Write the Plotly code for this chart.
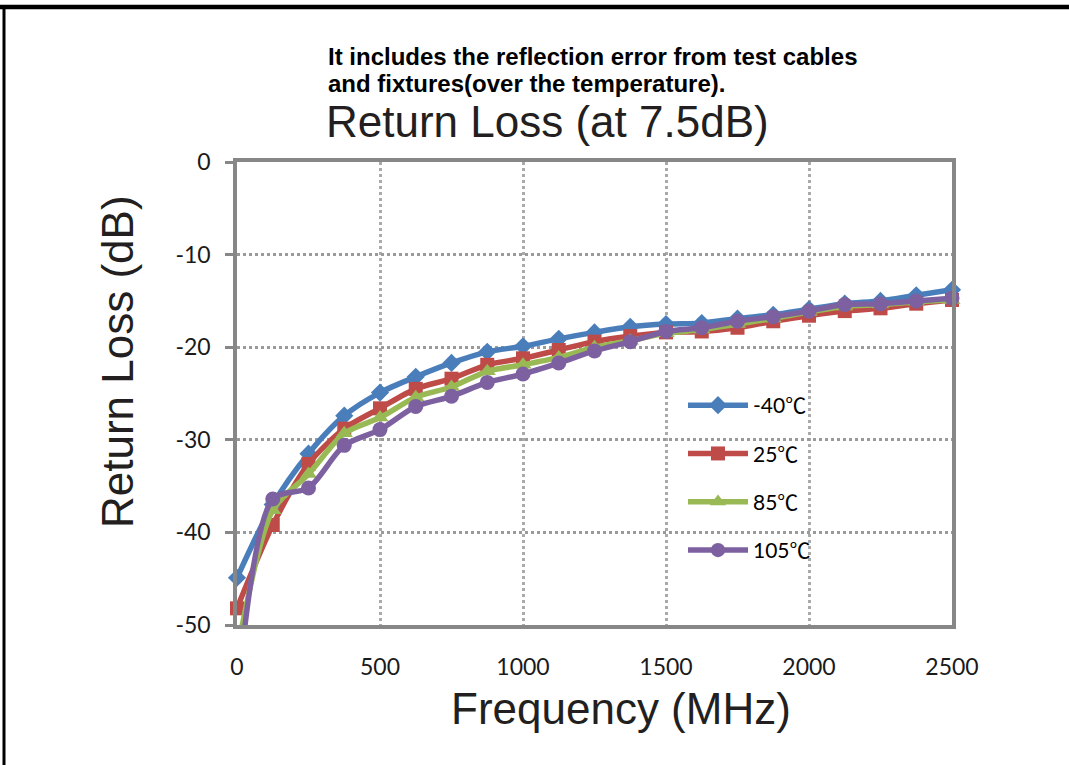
import plotly.graph_objects as go

# ---------------- data ----------------
freq_mhz = [0, 125, 250, 375, 500, 625, 750, 875, 1000, 1125, 1250,
            1375, 1500, 1625, 1750, 1875, 2000, 2125, 2250, 2375, 2500]
rl_m40 = [-44.9, -37.0, -31.5, -27.4, -24.9, -23.2, -21.7, -20.5, -19.9, -19.1, -18.4,
          -17.8, -17.5, -17.4, -16.9, -16.5, -15.9, -15.3, -15.0, -14.4, -13.8]
rl_25 = [-48.2, -39.2, -32.6, -28.8, -26.6, -24.5, -23.4, -21.9, -21.2, -20.3, -19.4,
         -18.8, -18.4, -18.3, -17.9, -17.2, -16.6, -16.1, -15.8, -15.3, -14.9]
rl_85 = [-53.0, -37.6, -33.7, -29.3, -27.6, -25.4, -24.3, -22.6, -21.9, -21.1, -20.0,
         -19.3, -18.5, -18.1, -17.5, -16.9, -16.2, -15.6, -15.4, -15.1, -14.9]
rl_105 = [-58.0, -36.4, -35.2, -30.6, -28.9, -26.4, -25.3, -23.8, -22.9, -21.7, -20.4,
          -19.4, -18.3, -17.9, -17.2, -16.7, -16.1, -15.4, -15.3, -15.0, -14.7]
series_names = ["-40℃", "25℃", "85℃", "105℃"]
x_ticks = [0, 500, 1000, 1500, 2000, 2500]
y_ticks = [0, -10, -20, -30, -40, -50]
subtitle_lines = ["It includes the reflection error from test cables",
                  "and fixtures(over the temperature)."]
chart_title = "Return Loss (at 7.5dB)"

# ---------------- style ----------------
W, H = 1069, 765
L, R, T, B = 237, 952, 162, 625
colors = ["#4A7EBB", "#BE4B48", "#98B954", "#7D60A0"]
symbols = ["diamond", "square", "triangle-up", "circle"]
msizes = [14, 14, 15, 15]
YMIN, YMAX = -50, 0


def px_x(p):
    return (p - L) / (R - L)


def px_y(p):
    return (B - p) / (B - T)


fig = go.Figure()
for i, (name, ys) in enumerate(zip(series_names, [rl_m40, rl_25, rl_85, rl_105])):
    sizes = [msizes[i] if YMIN <= v <= YMAX else 0 for v in ys]
    fig.add_trace(go.Scatter(
        x=freq_mhz, y=ys, name=name, mode="lines+markers",
        line=dict(color=colors[i], width=5.5, shape="spline", smoothing=0.8),
        marker=dict(symbol=symbols[i], size=sizes, color=colors[i], opacity=1,
                    line=dict(width=0)),
        cliponaxis=False, legendgroup=name,
    ))

tick_font = dict(family="Lato, Open Sans, sans-serif", size=23, color="#1a1a1a")
fig.update_xaxes(
    range=[0, 2500], tickvals=x_ticks, ticktext=[str(v) for v in x_ticks],
    showgrid=True, gridcolor="#aaaaaa", gridwidth=2.5, griddash="dot",
    showline=True, linecolor="#878787", linewidth=3.5, mirror=True,
    ticks="", tickfont=tick_font, ticklabelstandoff=19, zeroline=False,
)
fig.update_yaxes(
    range=[YMIN, YMAX], tickvals=y_ticks, ticktext=[str(v) for v in y_ticks],
    showgrid=True, gridcolor="#9a9a9a", gridwidth=2.5, griddash="dot",
    showline=True, linecolor="#878787", linewidth=3.5, mirror=True,
    ticks="outside", ticklen=8, tickwidth=2.5, tickcolor="#878787",
    tickfont=tick_font, ticklabelstandoff=10, zeroline=False,
)

title_font = dict(family="Liberation Sans, Arial", size=44, color="#231f20")
# axis titles as annotations (placed as in the reference)
fig.add_annotation(
    text="Return Loss (dB)", xref="paper", yref="paper", x=px_x(117), y=px_y(362),
    xanchor="center", yanchor="middle", textangle=-90, showarrow=False, font=title_font,
)
fig.add_annotation(
    text="Frequency (MHz)", xref="paper", yref="paper", x=px_x(621), y=px_y(708),
    xanchor="center", yanchor="middle", showarrow=False, font=title_font,
)
# chart titles
for line_text, yc in zip(subtitle_lines, [56, 84]):
    fig.add_annotation(
        text="<b>" + line_text + "</b>",
        xref="paper", yref="paper", x=px_x(326), y=px_y(yc), xanchor="left", yanchor="middle",
        align="left", showarrow=False,
        font=dict(family="Liberation Sans, Arial", size=24, color="#000000"),
    )
fig.add_annotation(
    text=chart_title, xref="paper", yref="paper",
    x=px_x(547), y=px_y(122), xanchor="center", yanchor="middle", showarrow=False,
    font=title_font,
)

# outer frame lines (top thick, left thin)
fig.add_shape(type="line", xref="paper", yref="paper",
              x0=px_x(0), x1=px_x(W), y0=px_y(7), y1=px_y(7),
              line=dict(color="#000000", width=4.5))
fig.add_shape(type="line", xref="paper", yref="paper",
              x0=px_x(4), x1=px_x(4), y0=px_y(5), y1=px_y(H),
              line=dict(color="#000000", width=3))

fig.update_layout(
    width=W, height=H,
    margin=dict(l=L, r=W - R, t=T, b=H - B, autoexpand=False),
    paper_bgcolor="white", plot_bgcolor="white",
    showlegend=True,
    legend=dict(x=px_x(683), y=px_y(385), xanchor="left", yanchor="top",
                bgcolor="rgba(0,0,0,0)", tracegroupgap=18, itemwidth=60,
                font=dict(family="Lato, Noto Sans CJK JP, sans-serif", size=21, color="#000000")),
)

fig.write_html("out.html", config={"displayModeBar": False},
               post_script="document.body.style.margin='0';document.body.style.overflow='hidden';")
